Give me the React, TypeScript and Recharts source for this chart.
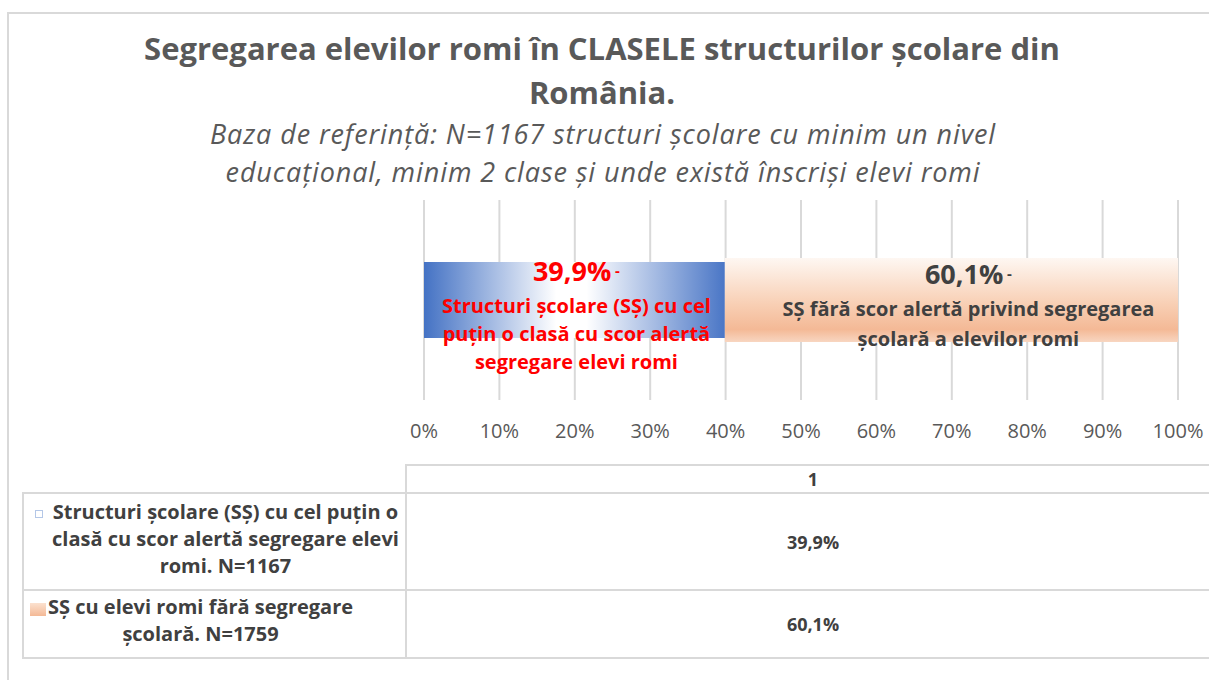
import React from "react";
import { Bar, BarChart, CartesianGrid, LabelList, XAxis, YAxis } from "recharts";

const categories = ["1"];
const alertShare = [0.399];
const noAlertShare = [0.601];
const tickValues = [0, 0.1, 0.2, 0.3, 0.4, 0.5, 0.6, 0.7, 0.8, 0.9, 1];
const valueLabels = ["39,9%", "60,1%"];
const alertLabelLines = ["Structuri școlare (SȘ) cu cel", "puțin o clasă cu scor alertă", "segregare elevi romi"];
const noAlertLabelLines = ["SȘ fără scor alertă privind segregarea", "școlară a elevilor romi"];
const legendLines = [
  ["Structuri școlare (SȘ) cu cel puțin o", "clasă cu scor alertă segregare elevi", "romi. N=1167"],
  ["SȘ cu elevi romi fără segregare", "școlară. N=1759"],
];
const titleLines = ["Segregarea elevilor romi în CLASELE structurilor școlare din", "România."];
const subtitleLines = [
  "Baza de referință: N=1167 structuri școlare cu minim un nivel",
  "educațional, minim 2 clase și unde există înscriși elevi romi",
];

const data = categories.map((name, i) => ({
  name,
  alert: alertShare[i],
  noAlert: noAlertShare[i],
}));

const FONT = '"Open Sans", sans-serif';
const TEXT = "#404040";
const GRID = "#d9d9d9";

const pct = (v: number) => `${Math.round(v * 100)}%`;

function GrowBar(props: any) {
  const { x, y, width, height, fill, grow } = props;
  return <rect x={x} y={y - grow} width={width} height={height + grow * 2} fill={fill} />;
}

function SegmentLabel({ x, y, width, value, lines, color, shift, firstDy, gap }: any) {
  const cx = x + width / 2 + shift;
  return (
    <g style={{ fontFamily: FONT, fontWeight: 700 }}>
      <text x={cx} y={y + firstDy} textAnchor="middle" dominantBaseline="central" fill={color}>
        <tspan fontSize={27}>{value}</tspan>
        <tspan fontSize={15}> -</tspan>
      </text>
      {lines.map((l: string, i: number) => (
        <text
          key={i}
          x={cx}
          y={y + firstDy + 35 + i * gap}
          textAnchor="middle"
          dominantBaseline="central"
          fill={color}
          fontSize={20}
        >
          {l}
        </text>
      ))}
    </g>
  );
}

function Line({ x, y, w, h }: { x: number; y: number; w: number; h: number }) {
  return <div style={{ position: "absolute", left: x, top: y, width: w, height: h, background: GRID }} />;
}

export default function App() {
  return (
    <div
      style={{
        position: "absolute",
        left: 0,
        top: 0,
        width: 1209,
        height: 680,
        background: "#fff",
        fontFamily: FONT,
        color: TEXT,
        overflow: "hidden",
      }}
    >
      {/* chart frame */}
      <Line x={7} y={12} w={1202} h={2} />
      <Line x={7} y={12} w={2} h={668} />

      {titleLines.map((t, i) => (
        <div
          key={t}
          style={{
            position: "absolute",
            left: 0,
            width: 1204,
            top: 28 + i * 44,
            textAlign: "center",
            fontSize: 31,
            fontWeight: 700,
            color: "#595959",
            lineHeight: "40px",
          }}
        >
          {t}
        </div>
      ))}
      {subtitleLines.map((t, i) => (
        <div
          key={t}
          style={{
            position: "absolute",
            left: 0,
            width: 1206,
            top: 119 + i * 38,
            textAlign: "center",
            fontSize: 27,
            letterSpacing: 0.9,
            fontStyle: "italic",
            color: "#595959",
            lineHeight: "30px",
          }}
        >
          {t}
        </div>
      ))}

      <div style={{ position: "absolute", left: 0, top: 0 }}>
        <BarChart
          width={1209}
          height={680}
          data={data}
          layout="vertical"
          margin={{ top: 200, right: 31, bottom: 250, left: 424 }}
          barSize={80}
        >
          <defs>
            <linearGradient id="blueFill" x1="0" y1="0" x2="1" y2="0">
              <stop offset="0" stopColor="#4472c4" />
              <stop offset="0.44" stopColor="#ffffff" />
              <stop offset="0.54" stopColor="#ffffff" />
              <stop offset="1" stopColor="#4a76c6" />
            </linearGradient>
            <linearGradient id="peachFill" x1="0" y1="0" x2="0" y2="1">
              <stop offset="0" stopColor="#fef7f2" />
              <stop offset="0.55" stopColor="#f8cfb4" />
              <stop offset="0.85" stopColor="#f4b996" />
              <stop offset="1" stopColor="#f8d6c1" />
            </linearGradient>
          </defs>
          <CartesianGrid horizontal={false} stroke={GRID} strokeWidth={2} />
          <XAxis
            type="number"
            domain={[0, 1]}
            ticks={tickValues}
            tickFormatter={pct}
            axisLine={false}
            tickLine={false}
            tickMargin={18}
            height={30}
            tick={{ fill: "#595959", fontSize: 20, fontFamily: FONT }}
            interval={0}
          />
          <YAxis type="category" dataKey="name" hide />
          <Bar
            dataKey="alert"
            stackId="s"
            fill="url(#blueFill)"
            isAnimationActive={false}
            shape={(p: any) => <GrowBar {...p} grow={-2} />}
          >
            <LabelList
              dataKey="alert"
              content={(p: any) => (
                <SegmentLabel
                  {...p}
                  value={valueLabels[0]}
                  lines={alertLabelLines}
                  color="#ff0000"
                  shift={2}
                  firstDy={10}
                  gap={28}
                />
              )}
            />
          </Bar>
          <Bar
            dataKey="noAlert"
            stackId="s"
            fill="url(#peachFill)"
            isAnimationActive={false}
            shape={(p: any) => <GrowBar {...p} grow={2} />}
          >
            <LabelList
              dataKey="noAlert"
              content={(p: any) => (
                <SegmentLabel
                  {...p}
                  value={valueLabels[1]}
                  lines={noAlertLabelLines}
                  color={TEXT}
                  shift={17}
                  firstDy={13}
                  gap={30}
                />
              )}
            />
          </Bar>
        </BarChart>
      </div>

      {/* data table */}
      <Line x={405} y={464} w={804} h={2} />
      <Line x={405} y={464} w={2} h={195} />
      <Line x={22} y={492} w={1187} h={2} />
      <Line x={22} y={589} w={1187} h={2} />
      <Line x={22} y={657} w={1187} h={2} />
      <Line x={22} y={492} w={2} h={167} />

      <div style={{ position: "absolute", left: 407, width: 812, top: 466, height: 26, display: "flex", alignItems: "center", justifyContent: "center", fontSize: 18, fontWeight: 700 }}>
        {categories[0]}
      </div>
      {valueLabels.map((v, i) => (
        <div
          key={v}
          style={{
            position: "absolute",
            left: 407,
            width: 812,
            top: i === 0 ? 494 : 591,
            height: i === 0 ? 95 : 66,
            display: "flex",
            alignItems: "center",
            justifyContent: "center",
            fontSize: 18,
            fontWeight: 700,
          }}
        >
          {v}
        </div>
      ))}
      {legendLines.map((lines, i) => (
        <div
          key={i}
          style={{
            position: "absolute",
            left: 28,
            width: 376,
            top: i === 0 ? 498 : 593,
            display: "flex",
            alignItems: "flex-start",
          }}
        >
          <div
            style={{
              flex: "none",
              width: i === 0 ? 6 : 16,
              height: i === 0 ? 6 : 13,
              marginTop: i === 0 ? 12 : 10,
              marginLeft: i === 0 ? 7 : 2,
              marginRight: i === 0 ? 9 : 2,
              border: i === 0 ? "1px solid #b4c7e7" : "none",
              background: i === 0 ? "#fff" : "linear-gradient(#fbe1cf, #f4b996)",
            }}
          />
          <div style={{ textAlign: "center", fontSize: 20, fontWeight: 700, lineHeight: "27px", whiteSpace: "nowrap" }}>
            {lines.map((l) => (
              <div key={l}>{l}</div>
            ))}
          </div>
        </div>
      ))}
    </div>
  );
}
